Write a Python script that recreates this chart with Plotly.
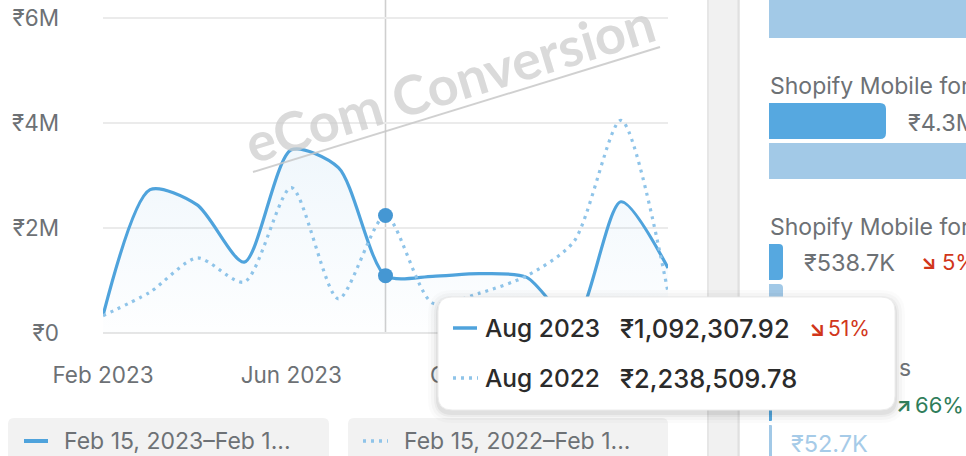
import plotly.graph_objects as go

# ---------------- data ----------------
months = ["Feb 2023", "Mar 2023", "Apr 2023", "May 2023", "Jun 2023", "Jul 2023",
          "Aug 2023", "Sep 2023", "Oct 2023", "Nov 2023", "Dec 2023", "Jan 2024", "Feb 2024"]
prev_months = ["Feb 2022", "Mar 2022", "Apr 2022", "May 2022", "Jun 2022", "Jul 2022",
               "Aug 2022", "Sep 2022", "Oct 2022", "Nov 2022", "Dec 2022", "Jan 2023", "Feb 2023"]
sales_2023 = [330000, 2730000, 2440000, 1350000, 3490000, 3150000,
              1092307.92, 1080000, 1130000, 1060000, 200000, 2500000, 1240000]
sales_2022 = [330000, 780000, 1430000, 970000, 2770000, 650000,
              2238509.78, 570000, 760000, 1090000, 1740000, 4050000, 780000]
y_tickvals = [0, 2000000, 4000000, 6000000]
y_ticktext = ["₹0", "₹2M", "₹4M", "₹6M"]
x_tickvals = ["Feb 2023", "Jun 2023", "Oct 2023", "Feb 2024"]
legend_labels = ["Feb 15, 2023–Feb 1...", "Feb 15, 2022–Feb 1..."]
hover_idx = 6

# ---------------- geometry helpers ----------------
W, H = 966, 456
L, R, T, B = 103, 668, 14, 333          # plot area in pixels
Y6M_PX = 18                              # pixel row of the 6M gridline
Y_TOP = 6000000 * (B - T) / (B - Y6M_PX)  # axis top so that 6M sits at Y6M_PX


def fx(px):
    return (px - L) / (R - L)


def fy(py):
    return (B - py) / (B - T)


def rrect(x0, y0, x1, y1, r):
    p = [
        f"M {fx(x0 + r)},{fy(y0)}",
        f"L {fx(x1 - r)},{fy(y0)}",
        f"Q {fx(x1)},{fy(y0)} {fx(x1)},{fy(y0 + r)}",
        f"L {fx(x1)},{fy(y1 - r)}",
        f"Q {fx(x1)},{fy(y1)} {fx(x1 - r)},{fy(y1)}",
        f"L {fx(x0 + r)},{fy(y1)}",
        f"Q {fx(x0)},{fy(y1)} {fx(x0)},{fy(y1 - r)}",
        f"L {fx(x0)},{fy(y0 + r)}",
        f"Q {fx(x0)},{fy(y0)} {fx(x0 + r)},{fy(y0)}",
        "Z",
    ]
    return " ".join(p)


def rrect_right(x0, y0, x1, y1, r):
    p = [
        f"M {fx(x0)},{fy(y0)}",
        f"L {fx(x1 - r)},{fy(y0)}",
        f"Q {fx(x1)},{fy(y0)} {fx(x1)},{fy(y0 + r)}",
        f"L {fx(x1)},{fy(y1 - r)}",
        f"Q {fx(x1)},{fy(y1)} {fx(x1 - r)},{fy(y1)}",
        f"L {fx(x0)},{fy(y1)}",
        "Z",
    ]
    return " ".join(p)


FONT = "Inter, Roboto, sans-serif"
GRAY = "#6d7175"
DARK = "#2b2b2b"
BLUE = "#4fa3dc"
BLUE_LIGHT = "#8fc4e9"
MARK = "#4597d3"
BAR_DARK = "#56a8e0"
BAR_LIGHT = "#a2c9e7"
RED = "#d1361a"
GREEN = "#2f7d5a"

fig = go.Figure()

fig.add_trace(go.Scatter(
    x=months, y=sales_2023, mode="lines",
    line=dict(color=BLUE, width=3.2, shape="spline", smoothing=0.75),
    fill="tozeroy",
    fillgradient=dict(type="vertical", start=0, stop=3500000,
                      colorscale=[[0, "rgba(88,166,222,0.01)"], [1, "rgba(88,166,222,0.09)"]]),
    hoverinfo="skip", showlegend=False,
))
fig.add_trace(go.Scatter(
    x=months, y=sales_2022, mode="lines",
    line=dict(color=BLUE_LIGHT, width=3.2, shape="spline", smoothing=0.75, dash="3px,5px"),
    hoverinfo="skip", showlegend=False,
))
fig.add_trace(go.Scatter(
    x=[months[hover_idx], months[hover_idx]],
    y=[sales_2023[hover_idx], sales_2022[hover_idx]],
    mode="markers", marker=dict(color=MARK, size=15),
    hoverinfo="skip", showlegend=False,
))

shapes = []
# crosshair
shapes.append(dict(type="line", xref="x", yref="paper", x0=months[hover_idx], x1=months[hover_idx],
                   y0=0, y1=fy(0), line=dict(color="#cfcfcf", width=1.6), layer="below"))
# watermark underline
shapes.append(dict(type="line", xref="paper", yref="paper", x0=fx(253), y0=fy(172), x1=fx(660), y1=fy(47),
                   line=dict(color="rgba(200,200,200,0.85)", width=2), layer="above"))

# right side: gray strip
shapes.append(dict(type="rect", xref="paper", yref="paper", x0=fx(707), x1=fx(740), y0=fy(0), y1=fy(H),
                   fillcolor="#f1f1f1", line=dict(width=0), layer="above"))
shapes.append(dict(type="line", xref="paper", yref="paper", x0=fx(708), x1=fx(708), y0=fy(0), y1=fy(H),
                   line=dict(color="#e6e6e6", width=2), layer="above"))
shapes.append(dict(type="line", xref="paper", yref="paper", x0=fx(738.5), x1=fx(738.5), y0=fy(0), y1=fy(H),
                   line=dict(color="#e0e0e0", width=2), layer="above"))

# right panel bars
bars = [
    (769, -10, 975, 38, BAR_LIGHT, 5),
    (769, 103, 886, 139, BAR_DARK, 6),
    (769, 143, 975, 179, BAR_LIGHT, 6),
    (769, 244, 783, 280, BAR_DARK, 4),
    (769, 284, 783, 330, BAR_LIGHT, 4),
    (769, 407, 772, 421, BAR_DARK, 1),
    (769, 425, 772, 470, BAR_LIGHT, 1),
]
for x0, y0, x1, y1, c, r in bars:
    shapes.append(dict(type="path", xref="paper", yref="paper", path=rrect_right(x0, y0, x1, y1, r),
                       fillcolor=c, line=dict(width=0), layer="above"))

# legend boxes
for x0, x1 in [(8, 329), (348, 668)]:
    shapes.append(dict(type="path", xref="paper", yref="paper", path=rrect(x0, 418, x1, 470, 6),
                       fillcolor="#f2f2f2", line=dict(width=0), layer="above"))
shapes.append(dict(type="line", xref="paper", yref="paper", x0=fx(24), x1=fx(48), y0=fy(441), y1=fy(441),
                   line=dict(color=BLUE, width=4), layer="above"))
shapes.append(dict(type="line", xref="paper", yref="paper", x0=fx(363), x1=fx(388), y0=fy(441), y1=fy(441),
                   line=dict(color=BLUE_LIGHT, width=3.5, dash="3px,5px"), layer="above"))

# tooltip shadow + box
for d, a in [(10, 0.015), (7, 0.025), (4, 0.035), (2, 0.05)]:
    shapes.append(dict(type="path", xref="paper", yref="paper",
                       path=rrect(438 - d, 297 - d + 3, 895 + d, 410 + d + 3, 14 + d),
                       fillcolor=f"rgba(0,0,0,{a})", line=dict(width=0), layer="above"))
shapes.append(dict(type="path", xref="paper", yref="paper", path=rrect(438, 297, 895, 410, 14),
                   fillcolor="white", line=dict(color="#ececec", width=1), layer="above"))
shapes.append(dict(type="line", xref="paper", yref="paper", x0=fx(453), x1=fx(477), y0=fy(328), y1=fy(328),
                   line=dict(color=BLUE, width=3.5), layer="above"))
shapes.append(dict(type="line", xref="paper", yref="paper", x0=fx(453), x1=fx(478), y0=fy(378), y1=fy(378),
                   line=dict(color=BLUE_LIGHT, width=3.5, dash="3px,5px"), layer="above"))

annotations = []


def txt(s, x, y, size, color, anchor="left", weight=400):
    annotations.append(dict(text=s, xref="paper", yref="paper", x=fx(x), y=fy(y), xanchor=anchor,
                            yanchor="middle", showarrow=False,
                            font=dict(family=FONT, size=size, color=color, weight=weight)))


# watermark
annotations.append(dict(text="eCom Conversion", xref="paper", yref="paper", x=fx(449), y=fy(82),
                        xanchor="center", yanchor="middle", showarrow=False, textangle=-17,
                        font=dict(family="Lato, sans-serif", size=54, color="rgba(205,205,205,0.75)", weight=700)))

# legend texts
txt(legend_labels[0], 62, 441, 23, GRAY)
txt(legend_labels[1], 402, 441, 23, GRAY)

# tooltip texts
pct = round(abs(sales_2023[hover_idx] / sales_2022[hover_idx] - 1) * 100)
txt("Aug 2023", 483, 328, 24.5, DARK, weight=500)
txt(f"₹{sales_2023[hover_idx]:,.2f}", 618, 328, 25.5, DARK, weight=500)
txt("↘", 807, 328, 21, RED, weight=700)
txt(f"{pct}%", 826, 328, 21, RED)
txt(prev_months[hover_idx], 483, 378, 24.5, DARK, weight=500)
txt(f"₹{sales_2022[hover_idx]:,.2f}", 618, 378, 25.5, DARK, weight=500)

# right panel texts
txt("Shopify Mobile for iPhone", 768, 86, 23, GRAY)
txt("₹4.3M", 906, 122, 23.5, GRAY)
txt("Shopify Mobile for Android", 768, 227, 23, GRAY)
txt("₹538.7K", 802, 262, 23.5, GRAY)
txt("↘", 919, 262, 20, RED, weight=700)
txt("5%", 940, 262, 22, RED)
txt("s", 897, 368, 23, GRAY)
txt("↗", 894, 405, 20, GREEN, weight=700)
txt("66%", 913, 405, 22, GREEN)
txt("₹52.7K", 789, 443, 23.5, "#a6cbe8")

fig.update_layout(
    width=W, height=H,
    margin=dict(l=L, r=W - R, t=T, b=H - B, pad=0, autoexpand=False),
    paper_bgcolor="white", plot_bgcolor="white",
    font=dict(family=FONT, color=GRAY, size=22),
    shapes=shapes, annotations=annotations,
    xaxis=dict(type="category", categoryorder="array", categoryarray=months, range=[0, 12],
               tickvals=x_tickvals, ticktext=x_tickvals, showgrid=False, zeroline=False,
               showline=False, ticks="", ticklabelstandoff=26, automargin=False,
               tickfont=dict(size=22.5, color=GRAY), fixedrange=True),
    yaxis=dict(range=[0, Y_TOP], tickvals=y_tickvals, ticktext=y_ticktext,
               showgrid=True, gridcolor="#ebebeb", gridwidth=2, zeroline=True,
               zerolinecolor="#e6e6e6", zerolinewidth=2, showline=False, ticks="",
               ticklabelstandoff=43, automargin=False,
               tickfont=dict(size=22.5, color=GRAY), fixedrange=True),
    showlegend=False,
)

fig.write_html(
    "out.html",
    config={"displayModeBar": False, "staticPlot": True},
    post_script="document.body.style.margin='0';document.body.style.overflow='hidden';",
)
